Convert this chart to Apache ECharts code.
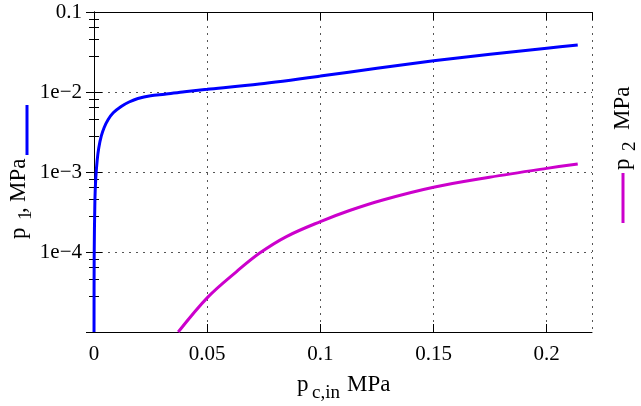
<!DOCTYPE html>
<html><head><meta charset="utf-8">
<script src="https://cdn.jsdelivr.net/npm/echarts@6/dist/echarts.min.js"></script>
<style>html,body{margin:0;padding:0;background:#fff}#c{width:641px;height:406px}</style>
</head><body><div id="c"></div>
<script>
// x-axis ticks (MPa)
const xTicks = [0, 0.05, 0.1, 0.15, 0.2];
// y tick labels keyed by decade exponent
const yTickLabels = { '-1': '0.1', '-2': '1e\u22122', '-3': '1e\u22123', '-4': '1e\u22124', '-5': '' };
// p1 (blue)
const p1X = [0.000008, 0.00008, 0.0004, 0.0008, 0.0014, 0.0021, 0.0032, 0.0045, 0.0062, 0.0085, 0.012, 0.0155, 0.0194, 0.025, 0.0312, 0.04, 0.05, 0.073, 0.1, 0.125, 0.15, 0.175, 0.2, 0.2137];
const p1Y = [1e-5, 9e-5, 4.4e-4, 8.5e-4, 1.4e-3, 2.0e-3, 2.8e-3, 3.6e-3, 4.5e-3, 5.5e-3, 6.6e-3, 7.5e-3, 8.3e-3, 9.0e-3, 9.4e-3, 1.01e-2, 1.08e-2, 1.26e-2, 1.58e-2, 1.98e-2, 2.46e-2, 2.96e-2, 3.52e-2, 3.87e-2];
// p2 (magenta)
const p2X = [0.0372, 0.0504, 0.063, 0.0732, 0.085, 0.1, 0.1129, 0.1276, 0.15, 0.1747, 0.2, 0.2137];
const p2Y = [1e-5, 2.75e-5, 5.7e-5, 9.7e-5, 1.56e-4, 2.4e-4, 3.3e-4, 4.47e-4, 6.45e-4, 8.59e-4, 1.11e-3, 1.26e-3];

const FONT = 'Liberation Serif';
const X_MIN = 0, X_MAX = 0.22;

const chart = echarts.init(document.getElementById('c'), null, { renderer: 'canvas' });
const axisLine = { show: true, lineStyle: { color: '#000', width: 1 } };
const grid = { left: 94, right: 49, top: 12, bottom: 74 };
function logAxis(pos, opts) {
  return Object.assign({
    type: 'log', logBase: 10, min: 1e-5, max: 0.1, position: pos,
    axisLine: axisLine,
    axisTick: { show: true, inside: true, length: 8, lineStyle: { color: '#000' } },
    minorTick: { show: true, length: -5, lineStyle: { color: '#000', width: 1 } },
    axisLabel: { show: false },
    splitLine: { show: false }
  }, opts);
}
const sub = (t, x, y, size) => ({ type: 'text', x: x, y: y, style: { text: t, fontFamily: FONT, fontSize: size, fill: '#000', verticalAlign: 'middle', align: 'left' } });

chart.setOption({
  animation: false,
  backgroundColor: '#fff',
  grid: grid,
  xAxis: [
    {
      type: 'value', min: X_MIN, max: X_MAX, interval: 0.05, position: 'bottom',
      axisLine: axisLine,
      axisTick: { show: true, inside: true, length: 8, lineStyle: { color: '#000' } },
      axisLabel: {
        show: true, margin: 12, fontFamily: FONT, fontSize: 21, color: '#000', showMaxLabel: false,
        formatter: v => xTicks.some(t => Math.abs(t - v) < 1e-9) ? String(+v.toFixed(2)) : ''
      },
      splitLine: { show: true, lineStyle: { color: '#555', width: 1, type: [2, 5] } }
    },
    {
      type: 'value', min: X_MIN, max: X_MAX, interval: 0.05, position: 'top',
      axisLine: axisLine,
      axisTick: { show: true, inside: true, length: 8, lineStyle: { color: '#000' } },
      axisLabel: { show: false }, splitLine: { show: false }
    }
  ],
  yAxis: [
    logAxis('left', {
      axisLabel: {
        show: true, margin: 12, fontFamily: FONT, fontSize: 21, color: '#000',
        formatter: v => yTickLabels[String(Math.round(Math.log10(v)))] || ''
      },
      splitLine: { show: true, lineStyle: { color: '#555', width: 1, type: [2, 5] } }
    }),
    logAxis('right', {})
  ],
  series: [
    {
      type: 'line', xAxisIndex: 0, yAxisIndex: 0, showSymbol: false, smooth: 0.3,
      data: p1X.map((x, i) => [x, p1Y[i]]),
      lineStyle: { color: '#0000ff', width: 3 }, z: 3
    },
    {
      type: 'line', xAxisIndex: 0, yAxisIndex: 1, showSymbol: false, smooth: 0.35,
      data: p2X.map((x, i) => [x, p2Y[i]]),
      lineStyle: { color: '#cc00cc', width: 3 }, z: 3
    }
  ],
  graphic: [
    // x-axis title
    sub('p', 297, 385, 23),
    sub('c,in', 312, 393, 19),
    sub('MPa', 347, 385, 23),
    // left title (rotated)
    {
      type: 'group', x: 27, y: 241, rotation: Math.PI / 2,
      children: [
        sub('p', 2, -8, 23),
        sub('1', 21, -1, 19),
        sub(',', 28, -8, 23),
        sub('MPa', 39, -8, 23)
      ]
    },
    { type: 'line', shape: { x1: 27, y1: 105, x2: 27, y2: 155 }, style: { stroke: '#0000ff', lineWidth: 3 } },
    // right title (rotated)
    {
      type: 'group', x: 631, y: 172, rotation: Math.PI / 2,
      children: [
        sub('p', 2, -8, 23),
        sub('2', 21, -1, 19),
        sub('MPa', 42, -8, 23)
      ]
    },
    { type: 'line', shape: { x1: 623, y1: 173, x2: 623, y2: 223 }, style: { stroke: '#cc00cc', lineWidth: 3 } }
  ]
});
</script>
</body></html>
